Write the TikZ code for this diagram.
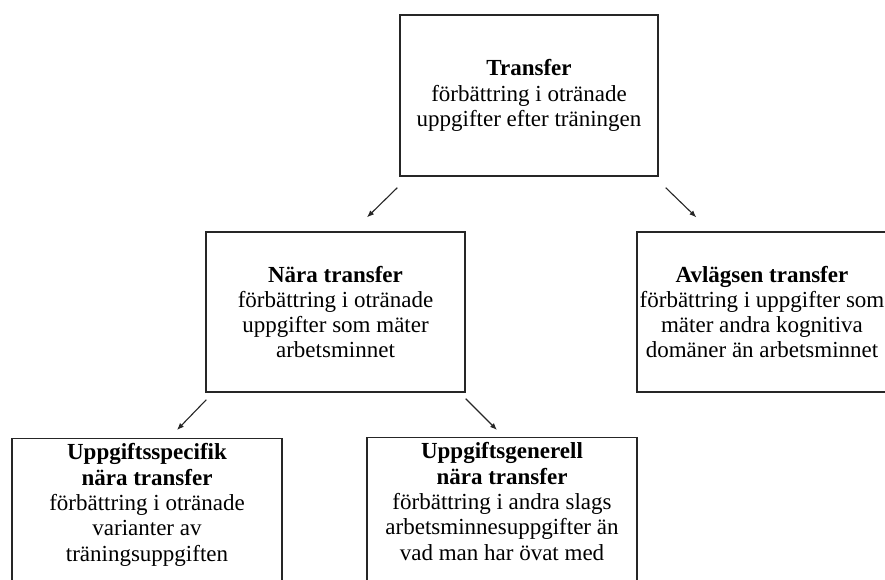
\documentclass[tikz,border=0pt]{standalone}
\usepackage{fontspec}
\setmainfont{Liberation Serif}
\usetikzlibrary{positioning, calc, arrows.meta}

\begin{document}
\begin{tikzpicture}[x=1pt, y=-1pt,
	box/.style={draw=black!85, line width=1.3pt, rectangle, align=center, text centered, inner sep=0pt, font=\fontsize{23}{25.3}\selectfont},
	pil/.style={draw=black!85, line width=1.1pt, -{Latex[length=7pt, width=5.5pt]}}]
	
	\clip (0,0) rectangle (885,579);
	
	\node (transfer) at (529,95.5) [box, minimum width=258pt, minimum height=161pt]{\textbf{Transfer}\\förbättring i otränade\\uppgifter efter träningen};
	
	\node (nara) at (335.5,312) [box, minimum width=259pt, minimum height=160pt]{\textbf{Nära transfer}\\förbättring i otränade\\uppgifter som mäter\\arbetsminnet};
	
	\node (avlagsen) at (762,312) [box, minimum width=250pt, minimum height=160pt]{\textbf{Avlägsen transfer}\\förbättring i uppgifter som\\mäter andra kognitiva\\domäner än arbetsminnet};
	
	\node (specifik) at (147,438) [box, anchor=north, minimum width=270pt, inner ysep=5pt, text depth=140pt]{\textbf{Uppgiftsspecifik}\\\textbf{nära transfer}\\förbättring i otränade\\varianter av\\träningsuppgiften};
	
	\node (generell) at (502,437) [box, anchor=north, minimum width=270pt, inner ysep=5pt, text depth=140pt]{\textbf{Uppgiftsgenerell}\\\textbf{nära transfer}\\förbättring i andra slags\\arbetsminnesuppgifter än\\vad man har övat med};
	
	\draw[pil] ($(transfer.south west)+(-2,11)$) -- ($(nara.north)+(31.5,-14)$);
	\draw[pil] ($(transfer.south east)+(7,11)$) -- ($(avlagsen.north west)+(60,-14)$);
	\draw[pil] ($(nara.south west)+(1,7)$) -- ($(specifik.north)+(30,-8)$);
	\draw[pil] ($(nara.south east)+(0,6)$) -- ($(generell.north)+(-5,-7)$);
	
\end{tikzpicture}
\end{document}
